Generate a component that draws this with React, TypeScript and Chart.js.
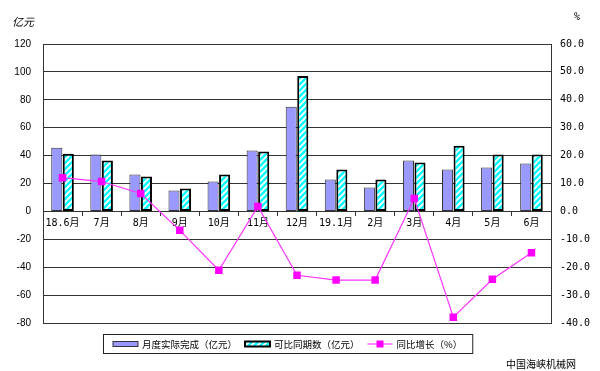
import React, { useEffect, useRef } from "react";
import { Chart, registerables } from "chart.js";

Chart.register(...registerables);

const categories = ["18.6月", "7月", "8月", "9月", "10月", "11月", "12月", "19.1月", "2月", "3月", "4月", "5月", "6月"];
const actualValues = [45.7, 40.7, 26.4, 15, 21.4, 43.6, 75, 22.9, 17.1, 36.4, 30, 31.4, 34.3];
const compareValues = [41.4, 36.4, 25, 16.4, 26.4, 43, 97, 30, 22.9, 35, 47, 40.7, 40.7];
const growthValues = [12.1, 10.7, 6.4, -6.8, -21.1, 1.8, -22.9, -24.6, -24.6, 4.6, -37.9, -24.3, -14.8];
const leftTicks = { min: -80, max: 120, step: 20 };
const rightTicks = { min: -40, max: 60, step: 10 };
const seriesNames = ["月度实际完成（亿元）", "可比同期数（亿元）", "同比增长（%）"];
const leftTitle = "亿元";
const rightTitle = "%";
const watermark = "中国海峡机械网";

const CJK = '"Noto Sans CJK SC", "Noto Sans", sans-serif';
const MONO = '"DejaVu Sans Mono", "Noto Sans CJK SC", monospace';

export default function App() {
  const ref = useRef<HTMLCanvasElement | null>(null);

  useEffect(() => {
    const canvas = ref.current!;
    const ctx = canvas.getContext("2d")!;

    const pc = document.createElement("canvas");
    pc.width = 6;
    pc.height = 6;
    const p = pc.getContext("2d")!;
    p.fillStyle = "#ffffff";
    p.fillRect(0, 0, 6, 6);
    p.strokeStyle = "#00FFFF";
    p.lineWidth = 2.4;
    p.beginPath();
    p.moveTo(-1, 7);
    p.lineTo(7, -1);
    p.moveTo(-4, 4);
    p.lineTo(4, -4);
    p.moveTo(2, 10);
    p.lineTo(10, 2);
    p.stroke();
    const hatch = ctx.createPattern(pc, "repeat")!;

    const decorPlugin = {
      id: "decor",
      afterDraw(chart: any) {
        const c = chart.ctx as CanvasRenderingContext2D;
        const area = chart.chartArea;
        c.save();
        // axis titles
        c.fillStyle = "#000";
        c.textBaseline = "middle";
        c.font = `italic 11px ${CJK}`;
        c.textAlign = "left";
        c.fillText(leftTitle, 12, area.top - 22);
        c.font = `10px ${MONO}`;
        c.textAlign = "left";
        c.fillText(rightTitle, area.right + 23, area.top - 27);

        // legend
        const ds = chart.data.datasets;
        const order = [0, 1, 2];
        c.font = `9.5px ${CJK}`;
        const boxX = area.left + 60;
        const boxY = area.bottom + 11;
        const boxH = 19;
        const pad = 10;
        const sw = 25;
        const gapSwText = 4;
        const gapItems = 8;
        let x = boxX + pad;
        const items: any[] = [];
        order.forEach((i) => {
          const tw = c.measureText(seriesNames[i]).width;
          items.push({ i, x, tw });
          x += sw + gapSwText + tw + gapItems;
        });
        const boxW = x - gapItems + pad - boxX;
        c.fillStyle = "#fff";
        c.fillRect(boxX, boxY, boxW, boxH);
        c.strokeStyle = "#222";
        c.lineWidth = 1;
        c.strokeRect(boxX + 0.5, boxY + 0.5, boxW, boxH);
        const cy = boxY + boxH / 2 + 0.5;
        items.forEach((it) => {
          const d = ds[it.i];
          if (d.type === "line") {
            c.strokeStyle = d.borderColor;
            c.lineWidth = 1.2;
            c.beginPath();
            c.moveTo(it.x, cy);
            c.lineTo(it.x + sw, cy);
            c.stroke();
            c.fillStyle = d.pointBackgroundColor;
            c.fillRect(it.x + sw / 2 - 3.5, cy - 3.5, 7, 7);
          } else {
            c.fillStyle = d.backgroundColor;
            c.fillRect(it.x, cy - 2.5, sw, 5);
            c.strokeStyle = d.borderColor;
            c.lineWidth = d.borderWidth;
            c.strokeRect(it.x, cy - 2.5, sw, 5);
          }
          c.fillStyle = "#000";
          c.textAlign = "left";
          c.textBaseline = "middle";
          c.fillText(seriesNames[it.i], it.x + sw + gapSwText, cy);
        });

        // watermark
        c.font = `10px ${CJK}`;
        c.fillStyle = "#000";
        c.textAlign = "right";
        c.fillText(watermark, chart.width - 24, chart.height - 7);
        c.restore();
      },
    };

    const chart = new Chart(canvas, {
      type: "bar",
      data: {
        labels: categories,
        datasets: [
          {
            type: "bar",
            label: seriesNames[0],
            data: actualValues,
            backgroundColor: "#9999FF",
            borderColor: "#333333",
            borderWidth: 1,
            borderSkipped: false,
            yAxisID: "y",
            order: 1,
            barPercentage: 0.96,
            categoryPercentage: 0.59,
          },
          {
            type: "bar",
            label: seriesNames[1],
            data: compareValues,
            backgroundColor: hatch as any,
            borderColor: "#000000",
            borderWidth: 2,
            borderSkipped: false,
            yAxisID: "y",
            order: 2,
            barPercentage: 0.96,
            categoryPercentage: 0.59,
          },
          {
            type: "line",
            label: seriesNames[2],
            data: growthValues,
            borderColor: "#FF33FF",
            borderWidth: 1.2,
            pointStyle: "rect",
            pointRadius: 5.3,
            pointBackgroundColor: "#FF00FF",
            pointBorderColor: "#FF00FF",
            pointBorderWidth: 0,
            yAxisID: "y1",
            order: 0,
            tension: 0,
          } as any,
        ],
      },
      options: {
        responsive: false,
        animation: false,
        devicePixelRatio: 1,
        layout: { padding: { top: 44, bottom: 48, left: 0, right: 0 } },
        plugins: {
          legend: { display: false },
          tooltip: { enabled: false },
          title: { display: false },
        },
        scales: {
          x: {
            type: "category",
            position: { y: 0 } as any,
            offset: true,
            grid: {
              display: true,
              drawOnChartArea: false,
              drawTicks: true,
              tickLength: 4,
              offset: true,
              color: "#333",
            },
            border: { display: true, color: "#333", width: 1 },
            ticks: {
              color: "#000",
              font: { family: MONO, size: 10 },
              padding: 2,
              maxRotation: 0,
              autoSkip: false,
            },
          },
          y: {
            type: "linear",
            position: "left",
            min: leftTicks.min,
            max: leftTicks.max,
            afterFit(scale: any) {
              scale.width = 43;
            },
            grid: { color: "#333", lineWidth: 1, drawTicks: false },
            border: { display: true, color: "#333", width: 1 },
            ticks: {
              stepSize: leftTicks.step,
              color: "#000",
              font: { family: '"Liberation Sans", Arial, sans-serif', size: 10 },
              padding: 12,
            },
          },
          y1: {
            type: "linear",
            position: "right",
            min: rightTicks.min,
            max: rightTicks.max,
            afterFit(scale: any) {
              scale.width = 49;
            },
            grid: { drawOnChartArea: false, drawTicks: false },
            border: { display: true, color: "#333", width: 1 },
            ticks: {
              stepSize: rightTicks.step,
              color: "#000",
              font: { family: MONO, size: 10 },
              padding: 9,
              callback: (v: any) => Number(v).toFixed(1),
            },
          },
        },
      },
      plugins: [decorPlugin],
    });

    return () => chart.destroy();
  }, []);

  return (
    <div style={{ position: "absolute", left: 0, top: 0, width: 600, height: 371, background: "#fff" }}>
      <canvas ref={ref} width={600} height={371} style={{ display: "block" }} />
    </div>
  );
}
